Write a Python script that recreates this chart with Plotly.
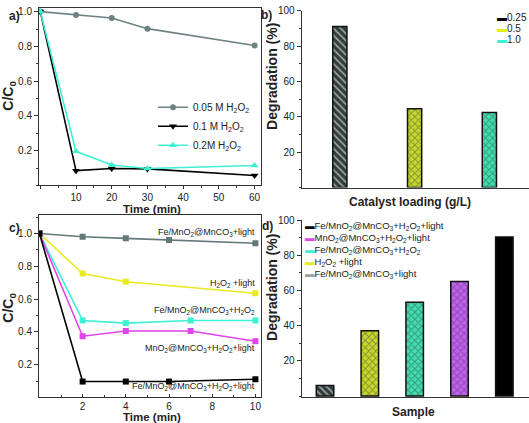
import plotly.graph_objects as go

W, H = 529, 423

# ---------------- data ----------------
# panel a: C/C0 vs time for H2O2 concentration
time_a = [0, 10, 20, 30, 60]
a_005 = [1.0, 0.981, 0.963, 0.902, 0.805]
a_01 = [1.0, 0.085, 0.097, 0.095, 0.057]
a_02 = [1.0, 0.196, 0.117, 0.097, 0.115]
names_a = ["0.05 M H<sub>2</sub>O<sub>2</sub>", "0.1 M H<sub>2</sub>O<sub>2</sub>", "0.2M H<sub>2</sub>O<sub>2</sub>"]

# panel b: degradation vs catalyst loading
loading_labels = ["0.25", "0.5", "1.0"]
degr_b = [91, 44.5, 42.5]

# panel c: C/C0 vs time for samples
t_grey = [0, 2, 4, 6, 10]
c_grey = [1.0, 0.98, 0.97, 0.96, 0.94]
t_yel = [0, 2, 4, 10]
c_yel = [1.0, 0.756, 0.706, 0.636]
t_cyan = [0, 2, 4, 7, 10]
c_cyan = [1.0, 0.47, 0.454, 0.47, 0.47]
t_mag = [0, 2, 4, 7, 10]
c_mag = [1.0, 0.374, 0.406, 0.406, 0.344]
t_blk = [0, 2, 4, 6, 10]
c_blk = [1.0, 0.098, 0.098, 0.098, 0.112]

# panel d: degradation per sample
samples = ["Fe/MnO<sub>2</sub>@MnCO<sub>3</sub>+light",
           "H<sub>2</sub>O<sub>2</sub> +light",
           "Fe/MnO<sub>2</sub>@MnCO<sub>3</sub>+H<sub>2</sub>O<sub>2</sub>",
           "MnO<sub>2</sub>@MnCO<sub>3</sub>+H<sub>2</sub>O<sub>2</sub>+light",
           "Fe/MnO<sub>2</sub>@MnCO<sub>3</sub>+H<sub>2</sub>O<sub>2</sub>+light"]
degr_d = [6, 37.2, 53.3, 65.2, 90.5]

# ---------------- styles ----------------
FONT = "Liberation Sans, Arial, sans-serif"
GREY = "#647878"
BLACK = "#000000"
CYAN = "#3ef0d4"
YEL = "#eaea1e"
MAG = "#e044ec"

def px(xp):
    return xp / W

def py(yp):
    return 1 - yp / H

fig = go.Figure()

# ---- panel a ----
fig.add_trace(go.Scatter(x=time_a, y=a_005, name=names_a[0], mode="lines+markers",
                         line=dict(color="#6f8282", width=1.6), marker=dict(symbol="circle", size=6),
                         xaxis="x", yaxis="y", legend="legend"))
fig.add_trace(go.Scatter(x=time_a, y=a_01, name=names_a[1], mode="lines+markers",
                         line=dict(color=BLACK, width=1.6), marker=dict(symbol="triangle-down", size=7),
                         xaxis="x", yaxis="y", legend="legend"))
fig.add_trace(go.Scatter(x=time_a, y=a_02, name=names_a[2], mode="lines+markers",
                         line=dict(color=CYAN, width=1.6), marker=dict(symbol="triangle-up", size=7),
                         xaxis="x", yaxis="y", legend="legend"))

# ---- panel b ----
fig.add_trace(go.Bar(x=[0, 1, 2], y=degr_b, width=0.19, xaxis="x2", yaxis="y2", showlegend=False,
                     marker=dict(color=["#2e3c3c", "#c8d82a", "#3ee0b0"],
                                 line=dict(color="#111111", width=1.5),
                                 pattern=dict(shape=["\\", "x", "x"],
                                              fgcolor=["#86a0a0", "#3a4800", "#0a6a50"],
                                              bgcolor=["#2e3c3c", "#c8d82a", "#3ee0b0"],
                                              size=5, solidity=0.35))))

# ---- panel c ----
for tx, cy, col in [(t_grey, c_grey, GREY), (t_yel, c_yel, YEL), (t_cyan, c_cyan, CYAN),
                    (t_mag, c_mag, MAG), (t_blk, c_blk, BLACK)]:
    fig.add_trace(go.Scatter(x=tx, y=cy, mode="lines+markers", showlegend=False,
                             line=dict(color=col, width=1.6), marker=dict(symbol="square", size=6),
                             xaxis="x3", yaxis="y3"))

# ---- panel d ----
fig.add_trace(go.Bar(x=[0, 1, 2, 3, 4], y=degr_d, width=0.39, xaxis="x4", yaxis="y4", showlegend=False,
                     marker=dict(color=["#2e3c3c", "#c8d82a", "#3ee0b0", "#c45ef6", "#000000"],
                                 line=dict(color="#111111", width=1.5),
                                 pattern=dict(shape=["\\", "x", "x", "x", ""],
                                              fgcolor=["#86a0a0", "#3a4800", "#0a6a50", "#6a2096", "#000000"],
                                              bgcolor=["#2e3c3c", "#c8d82a", "#3ee0b0", "#c45ef6", "#000000"],
                                              size=5, solidity=0.35))))

tickfont = dict(family=FONT, size=10, color="#222")
common = dict(showline=True, linecolor="#333", linewidth=1, ticks="outside", ticklen=4,
              tickcolor="#333", tickfont=tickfont, showgrid=False, zeroline=False)
xcommon = dict(showline=True, linecolor="#333", linewidth=1, ticklen=3,
               tickcolor="#333", tickfont=tickfont, showgrid=False, zeroline=False)

# panel c: plot bottom edge (px); 0 stays at the same pixel via the range
c_bottom_px = 396.5
c_unit_px = 166.6
c_zero_px = 397.3

fig.update_layout(
    width=W, height=H, autosize=False,
    margin=dict(l=0, r=0, t=0, b=0),
    paper_bgcolor="white", plot_bgcolor="white",
    font=dict(family=FONT, color="#222"),
    xaxis=dict(domain=[px(39), px(261)], range=[-0.36, 61.8], anchor="y", mirror=True,
               ticks="outside",
               tickvals=[0, 10, 20, 30, 40, 50, 60], ticktext=["", "10", "20", "30", "40", "50", "60"],
               minor=dict(dtick=5, tick0=0, ticks="outside", ticklen=2, tickcolor="#333"), **xcommon),
    yaxis=dict(domain=[py(182), py(2)], range=[0, 1.021], anchor="x", mirror=True,
               tickvals=[0.2, 0.4, 0.6, 0.8, 1.0], ticktext=["0.2", "0.4", "0.6", "0.8", "1.0"],
               minor=dict(dtick=0.1, tick0=0, ticks="outside", ticklen=2, tickcolor="#333"), **common),
    xaxis2=dict(domain=[px(301.7), 1.0], range=[-0.51, 2.53], anchor="y2",
                showticklabels=False, showline=True, linecolor="#333", linewidth=1,
                ticks="", showgrid=False, zeroline=False),
    yaxis2=dict(domain=[py(184.2), py(4.7)], range=[0, 100], anchor="x2",
                tickvals=[20, 40, 60, 80, 100],
                minor=dict(dtick=10, tick0=0, ticks="outside", ticklen=2, tickcolor="#333"), **common),
    xaxis3=dict(domain=[px(39), px(261)], range=[-0.02, 10.26], anchor="y3", mirror=True,
                ticks="inside",
                tickvals=[0, 2, 4, 6, 8, 10], ticktext=["", "2", "4", "6", "8", "10"],
                minor=dict(dtick=1, tick0=0, ticks="inside", ticklen=2, tickcolor="#333"), **xcommon),
    yaxis3=dict(domain=[py(c_bottom_px), py(211.7)],
                range=[(c_zero_px - c_bottom_px) / c_unit_px, (c_zero_px - 211.7) / c_unit_px],
                anchor="x3", mirror=True,
                tickvals=[0.2, 0.4, 0.6, 0.8, 1.0], ticktext=["0.2", "0.4", "0.6", "0.8", "1.0"],
                minor=dict(dtick=0.1, tick0=0, ticks="outside", ticklen=2, tickcolor="#333"), **common),
    xaxis4=dict(domain=[px(301.7), 1.0], range=[-0.52, 4.55], anchor="y4",
                showticklabels=False, showline=True, linecolor="#333", linewidth=1,
                ticks="", showgrid=False, zeroline=False),
    yaxis4=dict(domain=[py(396.7), py(217.3)], range=[-0.56, 100], anchor="x4",
                tickvals=[20, 40, 60, 80, 100],
                minor=dict(dtick=10, tick0=0, ticks="outside", ticklen=2, tickcolor="#333"), **common),
    legend=dict(x=px(153), y=py(88), xanchor="left", yanchor="top", bgcolor="rgba(0,0,0,0)",
                font=dict(family=FONT, size=10, color="#222"), itemwidth=30, tracegroupgap=0),
)

ann = []
def add_text(text, x, y, size, bold=False, angle=0, xanchor="center", yanchor="middle", color="#222",
             xref="paper", yref="paper"):
    if bold:
        text = "<b>" + text + "</b>"
    ann.append(dict(text=text, x=x, y=y, xref=xref, yref=yref, showarrow=False, textangle=angle,
                    xanchor=xanchor, yanchor=yanchor, font=dict(family=FONT, size=size, color=color)))

# panel labels
add_text("a)", px(14), py(10), 12, bold=True)
add_text("b)", px(266), py(9), 12, bold=True)
add_text("c)", px(14), py(225), 12, bold=True)
add_text("d)", px(267), py(223), 12, bold=True)

# axis titles
add_text("C/C<sub>0</sub>", px(9), py(91), 14, bold=True, angle=-90)
add_text("C/C<sub>0</sub>", px(9), py(306), 14, bold=True, angle=-90)
add_text("Degradation (%)", px(272), py(72), 14, bold=True, angle=-90)
add_text("Degradation (%)", px(272), py(286), 14, bold=True, angle=-90)
add_text("Time (min)", px(152), py(206), 11.5, bold=True)
add_text("Time (min)", px(152), py(416.5), 11.5, bold=True)
add_text("Catalyst loading (g/L)", px(410), py(199), 12, bold=True)
add_text("Sample", px(413), py(412), 12, bold=True)

# panel c line labels (right aligned at the right edge of the plot)
c_label_y = [1.004, 0.698, 0.530, 0.300, 0.070]
for lab, yv in zip(samples, c_label_y):
    add_text(lab, 10.08, yv, 9, xanchor="right", xref="x3", yref="y3")

# panel b legend
b_cols = ["#000000", "#e6ee10", "#3ef0d4"]
for i, (lab, col) in enumerate(zip(loading_labels, b_cols)):
    add_text('<span style="color:%s">▬</span>%s' % (col, lab), px(495), py(12 + 10.8 * i), 10,
             xanchor="left")

# panel d legend (top to bottom)
d_order = [4, 3, 2, 1, 0]
d_cols = ["#000000", "#e044ec", "#3ef0d4", "#eaea1e", "#9aa0a0"]
for i, (k, col) in enumerate(zip(d_order, d_cols)):
    add_text('<span style="color:%s">▬</span>%s' % (col, samples[k]), px(303), py(223.5 + 12.2 * i), 9.5,
             xanchor="left")

fig.update_layout(annotations=ann)
fig.write_html("out.html", config={"displayModeBar": False},
               post_script="document.body.style.margin='0';document.body.style.overflow='hidden';")
